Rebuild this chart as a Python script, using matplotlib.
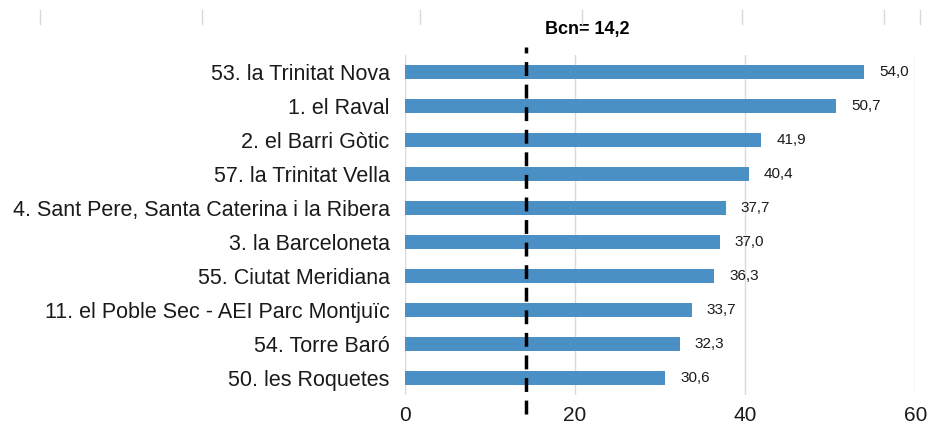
import matplotlib

matplotlib.use("Agg")
import matplotlib.pyplot as plt
from matplotlib.lines import Line2D

barris = [
    "53. la Trinitat Nova",
    "1. el Raval",
    "2. el Barri Gòtic",
    "57. la Trinitat Vella",
    "4. Sant Pere, Santa Caterina i la Ribera",
    "3. la Barceloneta",
    "55. Ciutat Meridiana",
    "11. el Poble Sec - AEI Parc Montjuïc",
    "54. Torre Baró",
    "50. les Roquetes",
]
valors = [54.0, 50.7, 41.9, 40.4, 37.7, 37.0, 36.3, 33.7, 32.3, 30.6]
bcn = 14.2
xticks = [0, 20, 40, 60]

plt.rcParams["font.family"] = ["Liberation Sans", "DejaVu Sans"]

fig = plt.figure(figsize=(9.33, 4.29), dpi=100)
ax = fig.add_axes([0.434, 0.079, 0.547, 0.793])

pos = list(range(len(barris)))
ax.barh(pos, valors, height=0.42, color="#4a90c4", zorder=2)
ax.set_ylim(len(barris) - 0.5, -0.5)
ax.set_xlim(0, 60)
ax.set_xticks(xticks)
ax.set_yticks(pos)
ax.set_yticklabels(barris, fontsize=15.5, color="#1a1a1a")
ax.tick_params(axis="y", length=0, pad=11)
ax.tick_params(axis="x", length=0, pad=8, labelsize=15, labelcolor="#1a1a1a")
ax.grid(True, axis="x", color="#d9d9d9", linewidth=1, zorder=0)
for s in ax.spines.values():
    s.set_visible(False)

for i, v in enumerate(valors):
    ax.annotate(
        f"{v:.1f}".replace(".", ","),
        (v, i),
        xytext=(11, 0),
        textcoords="offset points",
        va="center",
        fontsize=11,
        color="#1a1a1a",
    )

# linea de referencia Barcelona
ax.plot(
    [bcn, bcn],
    [len(barris) - 0.5 + 0.55, -0.5 - 0.23],
    color="black",
    linewidth=2.5,
    dashes=(4, 2.5),
    clip_on=False,
    zorder=3,
)
ax.annotate(
    f"Bcn= {bcn:.1f}".replace(".", ","),
    (bcn, -0.5),
    xytext=(14, 18),
    textcoords="offset points",
    ha="left",
    va="center",
    fontsize=13,
    fontweight="bold",
)

# restes de les marques d'un grafic superior
for xf in [40, 202, 420, 582, 742, 884, 920]:
    fig.add_artist(
        Line2D([xf / 933, xf / 933], [1 - 10 / 429, 1 - 24 / 429], color="#d9d9d9", linewidth=1)
    )

fig.savefig("out.png", dpi=100)
